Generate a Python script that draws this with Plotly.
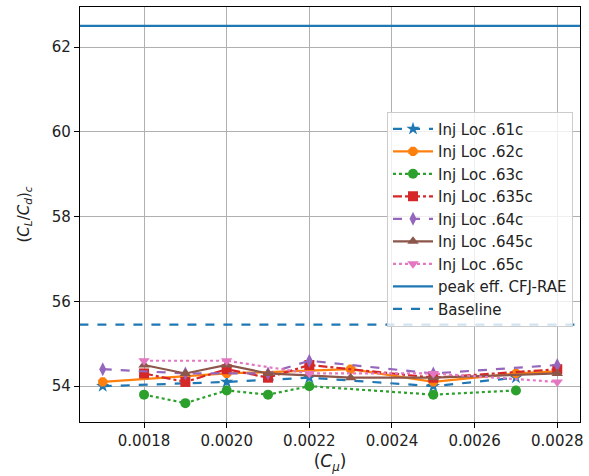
import plotly.graph_objects as go

# Data
x61 = [0.0017, 0.0020, 0.0022, 0.0025, 0.0027]
y61 = [54.0, 54.1, 54.2, 54.0, 54.2]
x62 = [0.0017, 0.0020, 0.0023, 0.0025, 0.0027, 0.0028]
y62 = [54.1, 54.3, 54.4, 54.1, 54.3, 54.35]
x63 = [0.0018, 0.0019, 0.0020, 0.0021, 0.0022, 0.0025, 0.0027]
y63 = [53.8, 53.6, 53.9, 53.8, 54.0, 53.8, 53.9]
x635 = [0.0018, 0.0019, 0.0020, 0.0021, 0.0022, 0.0025, 0.0028]
y635 = [54.3, 54.1, 54.4, 54.2, 54.5, 54.2, 54.4]
x64 = [0.0017, 0.0019, 0.0021, 0.0022, 0.0025, 0.0028]
y64 = [54.4, 54.3, 54.3, 54.6, 54.3, 54.5]
x645 = [0.0018, 0.0019, 0.0020, 0.0021, 0.0023, 0.0025, 0.0028]
y645 = [54.5, 54.3, 54.5, 54.3, 54.2, 54.2, 54.3]
x65 = [0.0018, 0.0020, 0.0022, 0.0025, 0.0028]
y65 = [54.6, 54.6, 54.3, 54.3, 54.1]
peak_eff = 62.5
baseline = 55.45
x_ref = [0.0016, 0.0029]

series = [
    ("Inj Loc .61c", x61, y61, "#1f77b4", "dash", "star"),
    ("Inj Loc .62c", x62, y62, "#ff7f0e", "solid", "octagon"),
    ("Inj Loc .63c", x63, y63, "#2ca02c", "dot", "circle"),
    ("Inj Loc .635c", x635, y635, "#d62728", "dashdot", "square"),
    ("Inj Loc .64c", x64, y64, "#9467bd", "dash", "diamond-tall"),
    ("Inj Loc .645c", x645, y645, "#8c564b", "solid", "triangle-up"),
    ("Inj Loc .65c", x65, y65, "#e377c2", "dot", "triangle-down"),
]

fig = go.Figure()
for name, xs, ys, col, dash, sym in series:
    fig.add_trace(go.Scatter(
        x=xs, y=ys, name=name, mode="lines+markers",
        line=dict(color=col, width=2.2, dash=dash),
        marker=dict(symbol=sym, size=10, color=col, line=dict(width=0)),
    ))

fig.add_trace(go.Scatter(x=x_ref, y=[peak_eff, peak_eff], name="peak eff. CFJ-RAE",
                         mode="lines", line=dict(color="#1f77b4", width=2.2)))
fig.add_trace(go.Scatter(x=x_ref, y=[baseline, baseline], name="Baseline",
                         mode="lines", line=dict(color="#1f77b4", width=2.2, dash="dash")))

axis_common = dict(
    showline=True, linecolor="black", linewidth=1.2, mirror=True,
    ticks="outside", ticklen=5, tickcolor="black", tickwidth=1,
    showgrid=True, gridcolor="#b0b0b0", gridwidth=1, zeroline=False,
    tickfont=dict(family="DejaVu Sans", size=15, color="#222"),
)

fig.update_layout(
    width=589, height=476,
    margin=dict(l=80, r=6, t=6, b=54),
    paper_bgcolor="white", plot_bgcolor="white",
    font=dict(family="DejaVu Sans", size=15, color="#222"),
    showlegend=True,
    legend=dict(
        x=0.986, xanchor="right", y=0.748, yanchor="top",
        bgcolor="rgba(255,255,255,0.8)", bordercolor="#cccccc", borderwidth=1,
        font=dict(family="DejaVu Sans", size=15, color="#222"),
        tracegroupgap=0, itemwidth=40,
    ),
    xaxis=dict(range=[0.001645, 0.002855], tickvals=[0.0018, 0.0020, 0.0022, 0.0024, 0.0026, 0.0028],
               tickformat=".4f",
               title=dict(text="(<i>C<sub>μ</sub></i>)", standoff=6,
                          font=dict(family="DejaVu Sans", size=17)),
               **axis_common),
    yaxis=dict(range=[53.155, 62.945], tickvals=[54, 56, 58, 60, 62],
               title=dict(text="(<i>C<sub>L</sub></i>/<i>C<sub>d</sub></i>)<sub><i>c</i></sub>", standoff=18,
                          font=dict(family="DejaVu Sans", size=15)),
               **axis_common),
)

fig.write_html("out.html")
